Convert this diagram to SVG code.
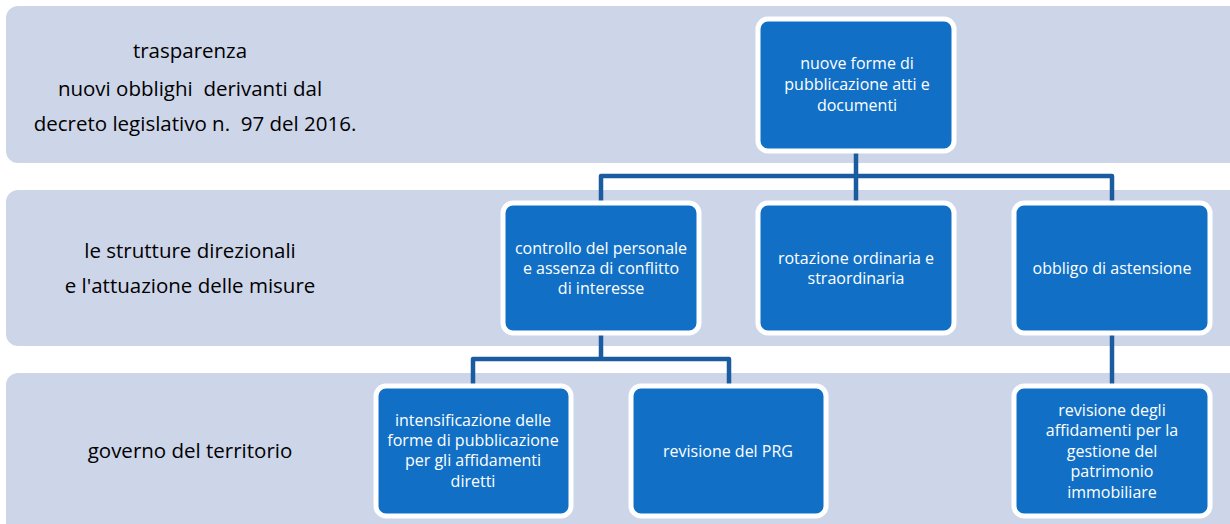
<svg xmlns="http://www.w3.org/2000/svg" width="1230" height="524" viewBox="0 0 1230 524">
<style>
.band{fill:#CDD5E9}
.node rect{fill:#1170C6;stroke:#FFFFFF;stroke-width:5}
.node text{fill:#FFFFFF;font-family:"Open Sans","Liberation Sans",sans-serif;font-size:16px;text-anchor:middle}
.lbl{fill:#000000;font-family:"Open Sans","Liberation Sans",sans-serif;font-size:20.5px;text-anchor:middle;white-space:pre}
.conn path{fill:none;stroke:#1A5C9F;stroke-width:4.5;stroke-linejoin:round}
</style>
<g id="bands">
<rect class="band" x="6" y="6" width="1236" height="157" rx="12"/>
<rect class="band" x="6" y="190" width="1236" height="156" rx="12"/>
<rect class="band" x="6" y="373" width="1236" height="170" rx="12"/>
</g>
<g id="labels">
<text class="lbl" x="190" y="58">trasparenza</text>
<text class="lbl" x="190" y="96" xml:space="preserve">nuovi obblighi  derivanti dal</text>
<text class="lbl" x="195" y="131" xml:space="preserve">decreto legislativo n.  97 del 2016.</text>
<text class="lbl" x="190" y="258">le strutture direzionali</text>
<text class="lbl" x="190" y="293">e l'attuazione delle misure</text>
<text class="lbl" x="190" y="458">governo del territorio</text>
</g>
<g id="connectors" class="conn">
<path d="M856 152 V176 M601 203 V176 H1112 V203 M856 176 V203"/>
<path d="M601 333 V359 M473 386 V359 H729 V386"/>
<path d="M1112 333 V386"/>
</g>
<g id="n1" class="node">
<rect x="758" y="19" width="196" height="132" rx="10"/>
<text x="857" y="69">nuove forme di</text>
<text x="857" y="90">pubblicazione atti e</text>
<text x="857" y="111">documenti</text>
</g>
<g id="n2" class="node">
<rect x="503" y="203" width="196" height="130" rx="10"/>
<text x="601" y="254">controllo del personale</text>
<text x="601" y="274">e assenza di conflitto</text>
<text x="601" y="294">di interesse</text>
</g>
<g id="n3" class="node">
<rect x="758" y="203" width="196" height="130" rx="10"/>
<text x="856" y="264">rotazione ordinaria e</text>
<text x="856" y="284">straordinaria</text>
</g>
<g id="n4" class="node">
<rect x="1014" y="203" width="196" height="130" rx="10"/>
<text x="1112" y="274">obbligo di astensione</text>
</g>
<g id="n5" class="node">
<rect x="376" y="386" width="195" height="130" rx="10"/>
<text x="473" y="426">intensificazione delle</text>
<text x="473" y="446">forme di pubblicazione</text>
<text x="473" y="466">per gli affidamenti</text>
<text x="473" y="487">diretti</text>
</g>
<g id="n6" class="node">
<rect x="631" y="386" width="195" height="130" rx="10"/>
<text x="728" y="457">revisione del PRG</text>
</g>
<g id="n7" class="node">
<rect x="1014" y="386" width="196" height="130" rx="10"/>
<text x="1112" y="416">revisione degli</text>
<text x="1112" y="436">affidamenti per la</text>
<text x="1112" y="457">gestione del</text>
<text x="1112" y="477">patrimonio</text>
<text x="1112" y="498">immobiliare</text>
</g>
</svg>
